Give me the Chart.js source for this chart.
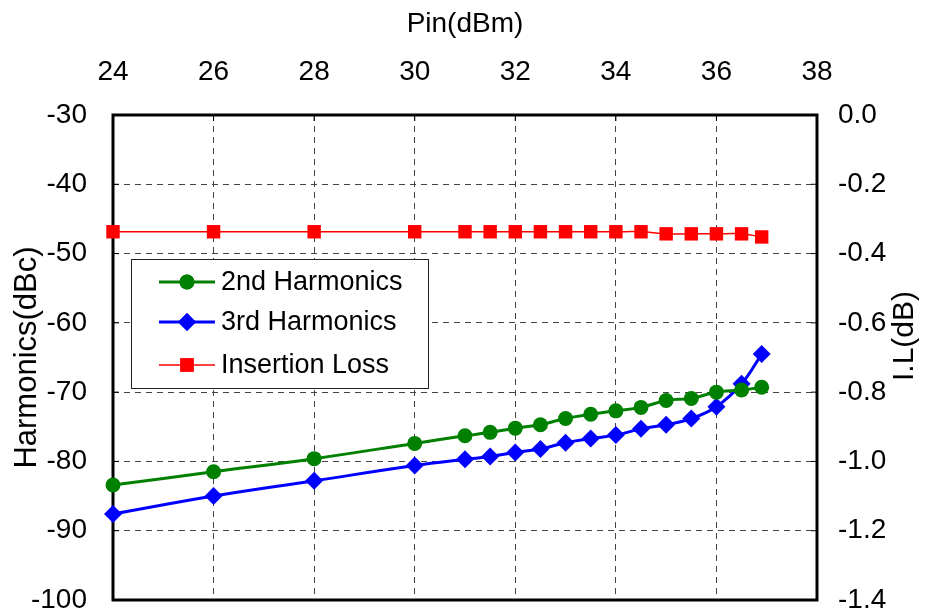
<!DOCTYPE html>
<html>
<head>
<meta charset="utf-8">
<script src="https://cdn.jsdelivr.net/npm/chart.js@4.4.0/dist/chart.umd.min.js"></script>
<style>
  body { margin: 0; background: #fff; }
  #wrap { width: 928px; height: 610px; }
</style>
</head>
<body>
<div id="wrap"><canvas id="harmonics" width="928" height="610"></canvas></div>
<script>
var pin = [24, 26, 28, 30, 31, 31.5, 32, 32.5, 33, 33.5, 34, 34.5, 35, 35.5, 36, 36.5, 36.9];
var harm2 = [-83.4, -81.5, -79.6, -77.4, -76.3, -75.8, -75.2, -74.7, -73.8, -73.2, -72.7, -72.2, -71.2, -70.9, -70.0, -69.7, -69.3];
var harm3 = [-87.6, -85.0, -82.8, -80.6, -79.7, -79.3, -78.7, -78.2, -77.3, -76.7, -76.2, -75.3, -74.7, -73.8, -72.1, -68.8, -64.5];
var insLoss = [-0.337, -0.337, -0.337, -0.337, -0.337, -0.337, -0.337, -0.337, -0.337, -0.337, -0.337, -0.337, -0.343, -0.343, -0.343, -0.343, -0.352];

var FONT = "'Liberation Sans', Arial, sans-serif";

function pts(ys) {
    return pin.map(function (x, i) { return { x: x, y: ys[i] }; });
}

// frame around plot, short inner tick marks, right axis title
var framePlugin = {
    id: 'frame',
    beforeDatasetsDraw: function (chart) {
        var a = chart.chartArea, ctx = chart.ctx;
        ctx.save();
        ctx.strokeStyle = '#000';
        ctx.lineWidth = 1;
        var sx = chart.scales.x, sy = chart.scales.y;
        sx.ticks.forEach(function (t) {
            var px = sx.getPixelForValue(t.value);
            ctx.beginPath(); ctx.moveTo(px, a.top); ctx.lineTo(px, a.top + 6); ctx.stroke();
        });
        sy.ticks.forEach(function (t) {
            var py = sy.getPixelForValue(t.value);
            ctx.beginPath(); ctx.moveTo(a.left, py); ctx.lineTo(a.left + 6, py); ctx.stroke();
            ctx.beginPath(); ctx.moveTo(a.right, py); ctx.lineTo(a.right - 6, py); ctx.stroke();
        });
        ctx.lineWidth = 3;
        ctx.strokeRect(a.left, a.top, a.right - a.left, a.bottom - a.top);

        ctx.translate(905, 336);
        ctx.rotate(-Math.PI / 2);
        ctx.fillStyle = '#000';
        ctx.font = '30px ' + FONT;
        ctx.textAlign = 'center';
        ctx.textBaseline = 'middle';
        ctx.fillText('I.L(dB)', 0, 0);
        ctx.restore();
    }
};

// legend box inside plot
var legendPlugin = {
    id: 'boxLegend',
    afterDatasetsDraw: function (chart) {
        var ctx = chart.ctx;
        var bx = 131, by = 259, bw = 297, bh = 129;
        ctx.save();
        ctx.fillStyle = '#fff';
        ctx.fillRect(bx, by, bw, bh);
        ctx.strokeStyle = '#222';
        ctx.lineWidth = 1;
        ctx.strokeRect(bx + 0.5, by + 0.5, bw, bh);
        var rows = [282, 322, 365];
        chart.data.datasets.forEach(function (ds, i) {
            var y = rows[i];
            ctx.strokeStyle = ds.borderColor;
            ctx.lineWidth = ds.borderWidth;
            ctx.beginPath(); ctx.moveTo(159, y); ctx.lineTo(215, y); ctx.stroke();
            ctx.fillStyle = ds.pointBackgroundColor;
            Chart.helpers.drawPoint(ctx, { pointStyle: ds.pointStyle, radius: ds.pointRadius, borderWidth: 0 }, 187, y);
            ctx.fill();
            ctx.fillStyle = '#000';
            ctx.font = '27px ' + FONT;
            ctx.textBaseline = 'middle';
            ctx.fillText(ds.label, 221, y + 1);
        });
        ctx.restore();
    }
};

function noEndPad(s) {
    s.paddingTop = 0;
    s.paddingBottom = 0;
}

new Chart(document.getElementById('harmonics'), {
    type: 'line',
    data: {
        datasets: [{
            label: '2nd Harmonics',
            data: pts(harm2),
            yAxisID: 'y',
            borderColor: '#008000',
            backgroundColor: '#008000',
            pointBackgroundColor: '#008000',
            pointBorderWidth: 0,
            borderWidth: 3,
            pointStyle: 'circle',
            pointRadius: 7.5,
            tension: 0.4
        }, {
            label: '3rd Harmonics',
            data: pts(harm3),
            yAxisID: 'y',
            borderColor: '#0000ff',
            backgroundColor: '#0000ff',
            pointBackgroundColor: '#0000ff',
            pointBorderWidth: 0,
            borderWidth: 3,
            pointStyle: 'rectRot',
            pointRadius: 9,
            tension: 0.4
        }, {
            label: 'Insertion Loss',
            data: pts(insLoss),
            yAxisID: 'yR',
            borderColor: '#ff0000',
            backgroundColor: '#ff0000',
            pointBackgroundColor: '#ff0000',
            pointBorderWidth: 0,
            borderWidth: 1.5,
            pointStyle: 'rect',
            pointRadius: 9.5,
            tension: 0.4
        }]
    },
    options: {
        responsive: false,
        animation: false,
        clip: false,
        layout: { padding: { left: 0, right: 0, top: 0, bottom: 10 } },
        plugins: {
            legend: { display: false },
            tooltip: { enabled: false }
        },
        scales: {
            x: {
                type: 'linear',
                position: 'top',
                min: 24,
                max: 38,
                ticks: { stepSize: 2, color: '#000', font: { family: FONT, size: 28 }, padding: 26 },
                title: { display: true, text: 'Pin(dBm)', color: '#000', font: { family: FONT, size: 28 }, padding: { top: 7, bottom: 0 } },
                grid: { color: '#444', lineWidth: 1, drawTicks: false },
                border: { display: false, dash: [6, 5] },
                afterFit: function (s) { s.height = 115; s.paddingLeft = 0; s.paddingRight = 0; }
            },
            y: {
                position: 'left',
                min: -100,
                max: -30,
                ticks: { stepSize: 10, color: '#000', font: { family: FONT, size: 28 }, padding: 26 },
                title: { display: true, text: 'Harmonics(dBc)', color: '#000', font: { family: FONT, size: 31 }, padding: { top: 9, bottom: 0 } },
                grid: { color: '#444', lineWidth: 1, drawTicks: false },
                border: { display: false, dash: [6, 5] },
                afterFit: function (s) { s.width = 113; noEndPad(s); }
            },
            yR: {
                position: 'right',
                min: -1.4,
                max: 0,
                ticks: {
                    stepSize: 0.2, color: '#000', font: { family: FONT, size: 28 }, padding: 21,
                    callback: function (v) { return v.toFixed(1); }
                },
                title: { display: false },
                grid: { drawOnChartArea: false, drawTicks: false },
                border: { display: false },
                afterFit: function (s) { s.width = 111; noEndPad(s); }
            }
        }
    },
    plugins: [framePlugin, legendPlugin]
});
</script>
</body>
</html>
